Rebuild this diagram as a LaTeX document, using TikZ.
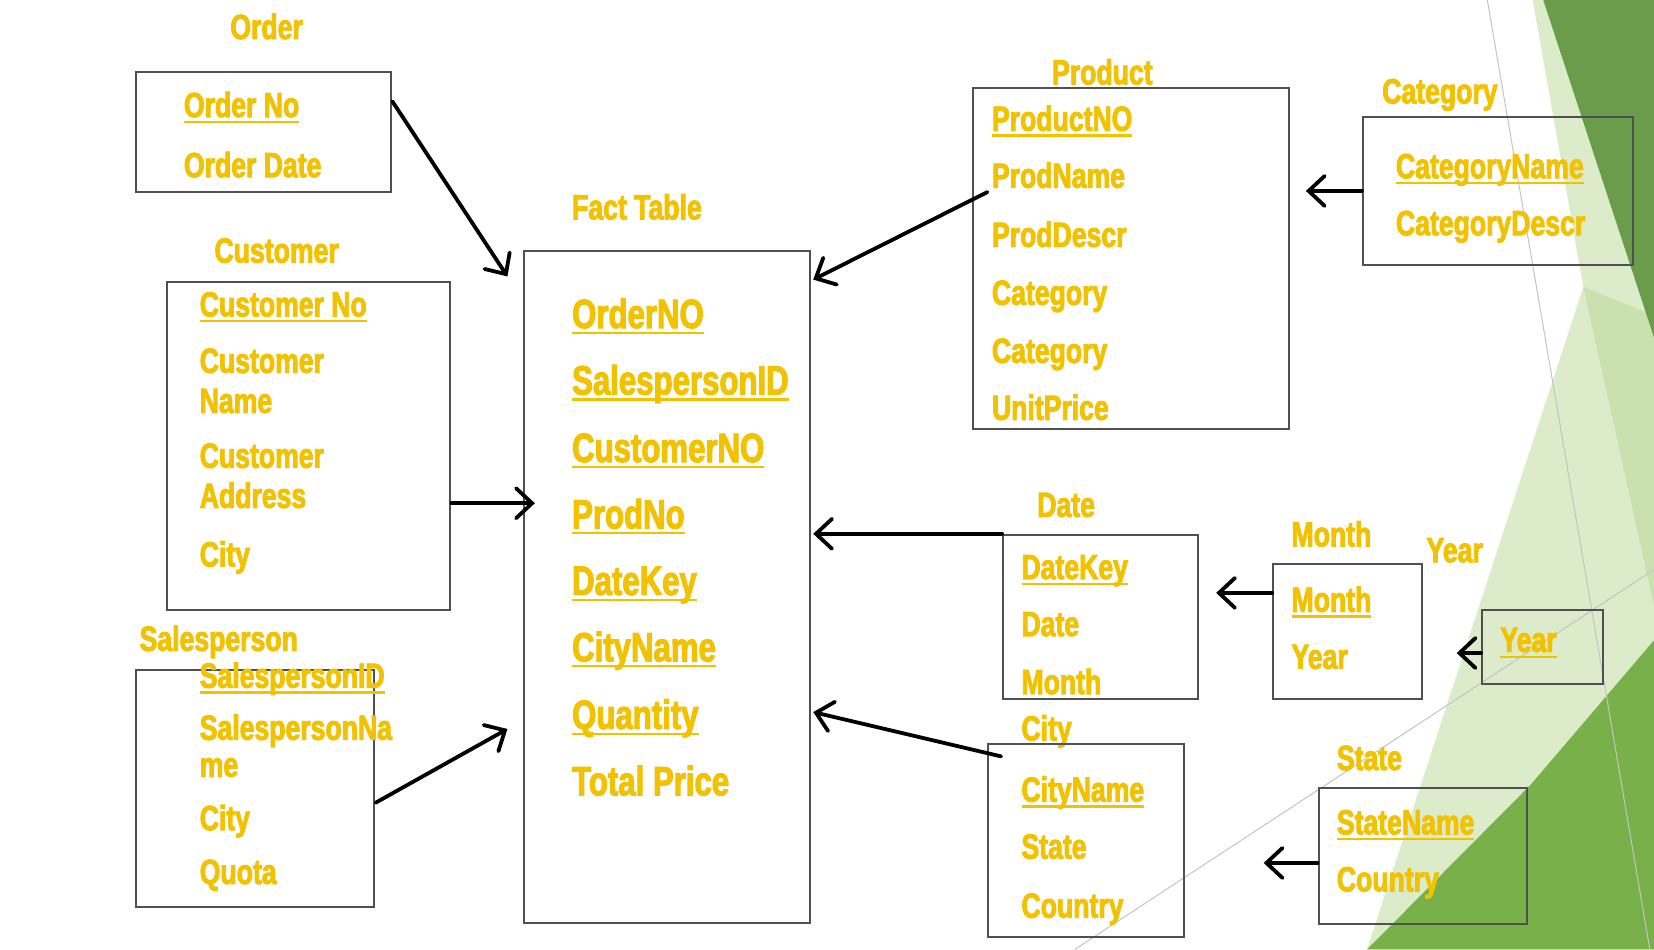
\documentclass[tikz,border=0pt]{standalone}
\usepackage{fontspec}
\newfontfamily\impfont[FakeStretch=0.76,BoldFeatures={FakeBold=2.5}]{Liberation Sans}
\usetikzlibrary{arrows.meta,fit,calc}
\definecolor{gold}{HTML}{F2C100}
\definecolor{boxgray}{HTML}{505050}
\definecolor{palegreen}{HTML}{DCEBC9}
\definecolor{midpale}{HTML}{C9E0AF}
\definecolor{darkgreen}{HTML}{6B9C4C}
\definecolor{medgreen}{HTML}{78B14A}
\definecolor{thinline}{HTML}{C4C4C4}
\newcommand\keyul[1]{\setbox0\hbox{#1}\rlap{\rule[-3pt]{\wd0}{1.2pt}}\box0}
\begin{document}
\begin{tikzpicture}[x=0.5273pt,y=-0.5273pt,
  box/.style={draw=boxgray,line width=1pt,inner sep=0pt},
  ttl/.style={anchor=base west,inner sep=0pt,text=gold,font=\impfont\bfseries\fontsize{17.5}{20}\selectfont},
  ent/.style={ttl},
  fent/.style={anchor=base west,inner sep=0pt,text=gold,font=\impfont\bfseries\fontsize{20.5}{24}\selectfont},
  two/.style={anchor=west,inner sep=0pt,text=gold,align=left,font=\impfont\bfseries\fontsize{17.5}{20}\selectfont},
  arr/.style={draw=black,line width=1.9pt,line cap=round,-{Straight Barb[length=8pt,width=15pt,line cap=round]}}]
\useasboundingbox (0,0) rectangle (1568,900);
\fill[white] (0,0) rectangle (1568,900);
% background theme shapes
\fill[palegreen] (1453,0) -- (1568,0) -- (1568,900) -- (1296,900) -- (1501,272) -- cycle;
\fill[midpale] (1501,272) -- (1568,299) -- (1568,574) -- cycle;
\fill[darkgreen] (1463,0) -- (1568,0) -- (1568,320) -- cycle;
\fill[medgreen] (1296,900) -- (1451,744) -- (1568,607) -- (1568,900) -- cycle;
\draw[thinline,line width=0.5pt] (1410,0) -- (1564,900);
\draw[thinline,line width=0.5pt] (1019,900) -- (1568,540);

% Order
\node[ttl] (ordert) at (218,37) {Order};
\node[box,fit={(129,68) (371,182)}] (order) {};
\node[ent] (o1) at (174,111) {\keyul{Order No}};
\node[ent] (o2) at (174,168) {Order Date};

% Customer
\node[ttl] (custt) at (203,249) {Customer};
\node[box,fit={(158,267) (427,578)}] (cust) {};
\node[ent] (c1) at (189,300) {\keyul{Customer No}};
\node[two] (c2) at (189,361) {Customer\\Name};
\node[two] (c3) at (189,451) {Customer\\Address};
\node[ent] (c4) at (189,537) {City};

% Salesperson
\node[ttl] (salest) at (132,617) {Salesperson};
\node[box,fit={(129,635) (355,860)}] (sales) {};
\node[ent] (s1) at (189,652) {\keyul{SalespersonID}};
\node[two,font=\impfont\bfseries\fontsize{17.5}{18.5}\selectfont] (s2) at (189,707) {SalespersonNa\\me};
\node[ent] (s3) at (189,787) {City};
\node[ent] (s4) at (189,838) {Quota};

% Fact table
\node[ttl] (factt) at (542,208) {Fact Table};
\node[box,fit={(497,238) (768,875)}] (fact) {};
\node[fent] (f1) at (542,311) {\keyul{OrderNO}};
\node[fent] (f2) at (542,374) {\keyul{SalespersonID}};
\node[fent] (f3) at (542,438) {\keyul{CustomerNO}};
\node[fent] (f4) at (542,501) {\keyul{ProdNo}};
\node[fent] (f5) at (542,564) {\keyul{DateKey}};
\node[fent] (f6) at (542,627) {\keyul{CityName}};
\node[fent] (f7) at (542,691) {\keyul{Quantity}};
\node[fent] (f8) at (542,754) {Total Price};

% Product
\node[ttl] (prodt) at (997,80) {Product};
\node[box,fit={(922,83) (1222,407)}] (prod) {};
\node[ent] (p1) at (940,124) {\keyul{ProductNO}};
\node[ent] (p2) at (940,178) {ProdName};
\node[ent] (p3) at (940,234) {ProdDescr};
\node[ent] (p4) at (940,289) {Category};
\node[ent] (p5) at (940,344) {Category};
\node[ent] (p6) at (940,398) {UnitPrice};

% Category
\node[ttl] (catt) at (1310,98) {Category};
\node[box,fit={(1292,111) (1548,251)}] (cat) {};
\node[ent] (k1) at (1323,169) {\keyul{CategoryName}};
\node[ent] (k2) at (1323,223) {CategoryDescr};

% Date
\node[ttl] (datet) at (983,490) {Date};
\node[box,fit={(951,507) (1136,663)}] (date) {};
\node[ent] (d1) at (968,549) {\keyul{DateKey}};
\node[ent] (d2) at (968,603) {Date};
\node[ent] (d3) at (968,658) {Month};

% Month
\node[ttl] (montht) at (1224,518) {Month};
\node[box,fit={(1207,535) (1348,663)}] (month) {};
\node[ent] (m1) at (1224,580) {\keyul{Month}};
\node[ent] (m2) at (1224,634) {Year};

% Year
\node[ttl] (yeart) at (1352,533) {Year};
\node[box,fit={(1405,578) (1520,648)}] (year) {};
\node[ent] (y1) at (1422,618) {\keyul{Year}};

% City
\node[ttl] (cityt) at (968,702) {City};
\node[box,fit={(937,705) (1122,888)}] (city) {};
\node[ent] (ci1) at (968,760) {\keyul{CityName}};
\node[ent] (ci2) at (968,814) {State};
\node[ent] (ci3) at (968,870) {Country};

% State
\node[ttl] (statet) at (1267,730) {State};
\node[box,fit={(1250,747) (1448,876)}] (state) {};
\node[ent] (st1) at (1267,791) {\keyul{StateName}};
\node[ent] (st2) at (1267,845) {Country};

% connectors
\draw[arr] ($(order.north east)+(0,29)$) -- ($(fact.north west)+(-15,25)$);
\draw[arr] ($(cust.north east)+(0,211)$) -- ($(fact.north west)+(11,240)$);
\draw[arr] ($(sales.north east)+(0,127)$) -- ($(fact.north west)+(-15,454)$);
\draw[arr] ($(prod.north west)+(15,100)$) -- ($(fact.north east)+(2,28)$);
\draw[arr] (cat.west) -- ($(prod.east |- cat.west)+(15,0)$);
\draw[arr] (date.north west) -- ($(fact.north east |- date.north west)+(2,0)$);
\draw[arr] ($(month.north west)+(0,28)$) -- ($(date.east |- month.north west)+(16,28)$);
\draw[arr] ($(year.north west)+(0,42)$) -- ($(month.east |- year.north west)+(32,42)$);
\draw[arr] ($(city.north west)+(13,13)$) -- ($(fact.north east)+(2,438)$);
\draw[arr] ($(state.north west)+(0,72)$) -- ($(city.east |- state.north west)+(75,72)$);
\end{tikzpicture}
\end{document}
